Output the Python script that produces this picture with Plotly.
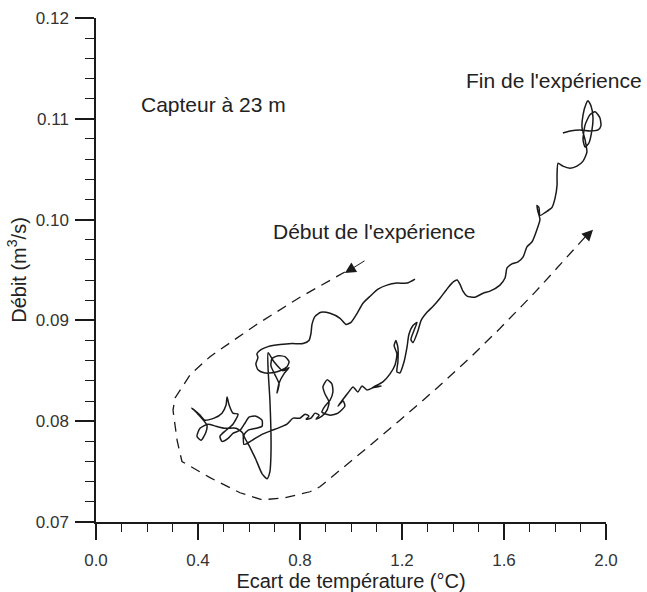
"""Débit vs écart de température, capteur à 23 m (hysteresis loop)."""

import plotly.graph_objects as go

# Measured trajectory (start = upper-left branch near 1.25 / 0.094, end near 1.98 / 0.109)
temp_diff = [
    1.251, 1.220, 1.180, 1.141, 1.106, 1.075, 1.047, 1.024, 1.000, 0.980,
    0.957, 0.918, 0.882, 0.859, 0.847, 0.843, 0.835, 0.812, 0.769, 0.722,
    0.675, 0.647, 0.631, 0.635, 0.627, 0.635, 0.659, 0.690, 0.722, 0.749,
    0.757, 0.741, 0.714, 0.690, 0.686, 0.702, 0.718, 0.710, 0.718, 0.737,
    0.757, 0.733, 0.698, 0.675, 0.675, 0.682, 0.686, 0.686, 0.682, 0.671,
    0.651, 0.627, 0.600, 0.580, 0.596, 0.627, 0.651, 0.651, 0.627, 0.600,
    0.584, 0.565, 0.537, 0.518, 0.494, 0.486, 0.510, 0.537, 0.557, 0.537,
    0.522, 0.514, 0.510, 0.494, 0.463, 0.427, 0.408, 0.376, 0.400, 0.435,
    0.431, 0.412, 0.396, 0.408, 0.439, 0.471, 0.506, 0.549, 0.576, 0.580,
    0.612, 0.651, 0.702, 0.749, 0.773, 0.800, 0.820, 0.835, 0.824, 0.843,
    0.859, 0.875, 0.863, 0.886, 0.906, 0.914, 0.898, 0.890, 0.906, 0.925,
    0.929, 0.918, 0.898, 0.886, 0.918, 0.949, 0.976, 0.969, 0.949, 0.988,
    1.008, 1.027, 1.043, 1.063, 1.094, 1.118, 1.082, 1.125, 1.153, 1.173,
    1.180, 1.169, 1.176, 1.184, 1.184, 1.180, 1.192, 1.208, 1.220, 1.227,
    1.243, 1.259, 1.247, 1.235, 1.243, 1.263, 1.275, 1.298, 1.322, 1.349,
    1.373, 1.396, 1.416, 1.427, 1.439, 1.455, 1.486, 1.518, 1.545, 1.584,
    1.604, 1.612, 1.631, 1.655, 1.675, 1.690, 1.710, 1.729, 1.741, 1.733,
    1.729, 1.737, 1.741, 1.761, 1.788, 1.800, 1.808, 1.808, 1.812, 1.831,
    1.859, 1.886, 1.910, 1.925, 1.918, 1.906, 1.910, 1.922, 1.929, 1.941,
    1.949, 1.945, 1.933, 1.918, 1.910, 1.918, 1.937, 1.957, 1.976, 1.980,
    1.969, 1.937, 1.898, 1.859, 1.831,
]
flow = [
    0.0941, 0.0937, 0.0937, 0.0935, 0.0931, 0.0924, 0.0917, 0.0907, 0.0898, 0.0896,
    0.0902, 0.0907, 0.0908, 0.0904, 0.0896, 0.0887, 0.0880, 0.0877, 0.0877, 0.0876,
    0.0874, 0.0871, 0.0867, 0.0863, 0.0857, 0.0851, 0.0848, 0.0848, 0.0850, 0.0854,
    0.0859, 0.0864, 0.0865, 0.0862, 0.0855, 0.0846, 0.0837, 0.0828, 0.0838, 0.0847,
    0.0853, 0.0850, 0.0859, 0.0868, 0.0851, 0.0821, 0.0791, 0.0766, 0.0750, 0.0743,
    0.0748, 0.0762, 0.0776, 0.0786, 0.0791, 0.0793, 0.0795, 0.0801, 0.0805, 0.0804,
    0.0798, 0.0791, 0.0788, 0.0783, 0.0780, 0.0785, 0.0791, 0.0797, 0.0807, 0.0808,
    0.0816, 0.0824, 0.0816, 0.0808, 0.0803, 0.0801, 0.0806, 0.0813, 0.0807, 0.0796,
    0.0789, 0.0781, 0.0785, 0.0793, 0.0797, 0.0795, 0.0793, 0.0793, 0.0788, 0.0777,
    0.0781, 0.0787, 0.0792, 0.0797, 0.0803, 0.0803, 0.0807, 0.0805, 0.0802, 0.0803,
    0.0808, 0.0806, 0.0802, 0.0805, 0.0811, 0.0819, 0.0827, 0.0834, 0.0841, 0.0837,
    0.0829, 0.0821, 0.0815, 0.0809, 0.0806, 0.0808, 0.0815, 0.0820, 0.0815, 0.0828,
    0.0834, 0.0829, 0.0835, 0.0831, 0.0834, 0.0835, 0.0833, 0.0839, 0.0847, 0.0856,
    0.0867, 0.0875, 0.0880, 0.0873, 0.0859, 0.0849, 0.0848, 0.0859, 0.0874, 0.0886,
    0.0895, 0.0898, 0.0890, 0.0881, 0.0878, 0.0890, 0.0900, 0.0908, 0.0914, 0.0922,
    0.0930, 0.0937, 0.0940, 0.0936, 0.0929, 0.0924, 0.0923, 0.0927, 0.0929, 0.0935,
    0.0942, 0.0952, 0.0956, 0.0958, 0.0963, 0.0973, 0.0978, 0.0990, 0.1000, 0.1008,
    0.1014, 0.1012, 0.1004, 0.1007, 0.1012, 0.1021, 0.1034, 0.1044, 0.1056, 0.1053,
    0.1051, 0.1053, 0.1058, 0.1067, 0.1079, 0.1091, 0.1104, 0.1115, 0.1118, 0.1113,
    0.1101, 0.1089, 0.1076, 0.1072, 0.1079, 0.1094, 0.1104, 0.1107, 0.1101, 0.1093,
    0.1089, 0.1088, 0.1089, 0.1088, 0.1086,
]

# Dashed guide showing the direction of travel
guide_x = [0.976, 0.800, 0.624, 0.447, 0.369, 0.310, 0.302, 0.318, 0.337, 0.447,
           0.565, 0.651, 0.741, 0.839, 0.878, 0.976, 1.075, 1.192, 1.329, 1.467,
           1.584, 1.722, 1.937]
guide_y = [0.0948, 0.0923, 0.0895, 0.0864, 0.0846, 0.0823, 0.0811, 0.0781, 0.0760, 0.0744,
           0.0729, 0.0722, 0.0724, 0.0730, 0.0735, 0.0755, 0.0776, 0.0801, 0.0831, 0.0863,
           0.0892, 0.0928, 0.0988]

# arrows: (tip x, tip y, tail x, tail y)
start_arrow = (0.976, 0.0947, 1.059, 0.0960)
end_arrow = (1.949, 0.0990, 1.918, 0.0982)

labels = [
    ("Capteur à 23 m", 0.461, 0.1114),
    ("Début de l'expérience", 1.092, 0.0988),
    ("Fin de l'expérience", 1.796, 0.1138),
]

INK = "#1a1a1a"
FONT = "Liberation Sans, Arial, sans-serif"

fig = go.Figure()
fig.add_trace(go.Scatter(
    x=guide_x, y=guide_y, mode="lines",
    line=dict(color=INK, width=1.3, dash="10px,7px"),
    hoverinfo="skip", showlegend=False,
))
fig.add_trace(go.Scatter(
    x=temp_diff, y=flow, mode="lines",
    line=dict(color=INK, width=1.5, shape="spline", smoothing=0.6),
    showlegend=False,
))

for tx, ty, sx, sy in (start_arrow, end_arrow):
    fig.add_annotation(
        x=tx, y=ty, ax=sx, ay=sy, xref="x", yref="y", axref="x", ayref="y",
        text="", showarrow=True, arrowhead=2, arrowsize=2.2, arrowwidth=1,
        arrowcolor=INK, standoff=0,
    )

for text, lx, ly in labels:
    fig.add_annotation(
        x=lx, y=ly, xref="x", yref="y", text=text, showarrow=False,
        font=dict(family=FONT, size=21, color="#222"),
    )

axis_common = dict(
    showline=True, linecolor=INK, linewidth=1.5, showgrid=False, zeroline=False,
    ticks="outside", tickcolor=INK, tickwidth=1.5, automargin=False,
    tickfont=dict(family=FONT, size=17, color="#333"),
    title_font=dict(family=FONT, size=20, color="#222"),
)
fig.update_xaxes(
    range=[0, 2.0], tick0=0, dtick=0.4, tickformat=".1f", ticklen=16,
    minor=dict(dtick=0.1, ticks="outside", ticklen=8, tickcolor=INK, tickwidth=1.2),
    title_text="Ecart de température (°C)", title_standoff=8, ticklabelstandoff=6,
    **axis_common,
)
fig.update_yaxes(
    range=[0.07, 0.12], tick0=0.07, dtick=0.01, tickformat=".2f", ticklen=19,
    minor=dict(dtick=0.002, ticks="outside", ticklen=9, tickcolor=INK, tickwidth=1.2),
    title_text="Débit (m<sup>3</sup>/s)", title_standoff=4, ticklabelstandoff=3,
    **axis_common,
)
fig.update_layout(
    width=647, height=592,
    margin=dict(l=96, r=41, t=18, b=70),
    plot_bgcolor="white", paper_bgcolor="white",
    font=dict(family=FONT),
)

# the default page keeps an 8px body margin; drop it so the figure fills the window
fig.write_html(
    "out.html",
    config={"displayModeBar": False},
    post_script="document.body.style.margin='0px';",
)
